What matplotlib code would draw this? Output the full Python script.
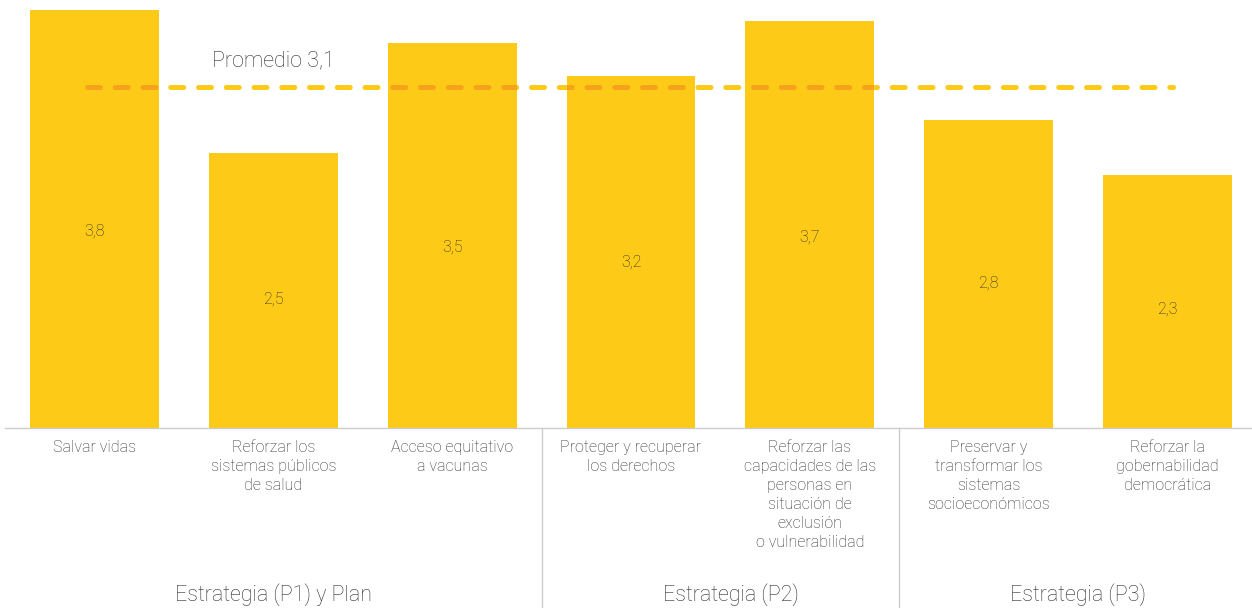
import matplotlib
matplotlib.use("Agg")
import matplotlib.pyplot as plt

# Data
categories = [
    "Salvar vidas",
    "Reforzar los\nsistemas públicos\nde salud",
    "Acceso equitativo\na vacunas",
    "Proteger y recuperar\nlos derechos",
    "Reforzar las\ncapacidades de las\npersonas en\nsituación de\nexclusión\no vulnerabilidad",
    "Preservar y\ntransformar los\nsistemas\nsocioeconómicos",
    "Reforzar la\ngobernabilidad\ndemocrática",
]
values = [3.8, 2.5, 3.5, 3.2, 3.7, 2.8, 2.3]
value_labels = ["3,8", "2,5", "3,5", "3,2", "3,7", "2,8", "2,3"]
average = 3.1
average_label = "Promedio 3,1"
groups = ["Estrategia (P1) y Plan", "Estrategia (P2)", "Estrategia (P3)"]
group_pos = [1.0, 3.56, 5.5]
separators = [2.5, 4.5]

BAR = "#FDCA17"
DASH_ON_BAR = "#F7A21B"
TEXT = "#2E2E2E"
RULE = "#CCCCCC"

plt.rcParams["font.family"] = ["Roboto", "DejaVu Sans"]

W, H = 1252, 608
fig = plt.figure(figsize=(W / 100, H / 100), dpi=100)
base_px = 428
ax = fig.add_axes([5 / W, (H - base_px) / H, 1252 / W, base_px / H])
ax.set_xlim(-0.5, 6.5)
ax.set_ylim(0, base_px / 110)

x = list(range(len(values)))
bars = ax.bar(x, values, width=0.72, color=BAR, zorder=2)

# Average line: yellow on white, deeper orange where it crosses a bar
lw = 3.6
dash = (2.6, 2.95)
line_x = [-0.04, 6.03]
ax.plot(line_x, [average, average], color=BAR, lw=lw,
        dashes=dash, dash_capstyle="round", zorder=3)
for b, v in zip(bars, values):
    if v > average:
        ln, = ax.plot(line_x, [average, average], color=DASH_ON_BAR,
                      lw=lw, dashes=dash, dash_capstyle="round", zorder=4)
        ln.set_clip_path(b)
ax.text(1.0, average + 0.24, average_label, ha="center", va="center",
        fontsize=15.5, color=TEXT, fontweight="light")

# Value labels inside bars
for xi, v, lab in zip(x, values, value_labels):
    ax.text(xi, v * 0.47, lab, ha="center", va="center", fontsize=11.5,
            color=TEXT, fontweight="light", zorder=5)

# Axis styling
for s in ["top", "right", "left"]:
    ax.spines[s].set_visible(False)
ax.spines["bottom"].set_color(RULE)
ax.spines["bottom"].set_linewidth(1)
ax.set_xticks([])
ax.set_yticks([])

tr = ax.get_xaxis_transform()
for xi, cat in zip(x, categories):
    ax.text(xi, -12 / base_px, cat, transform=tr, ha="center", va="top",
            fontsize=11.5, color=TEXT, fontweight="light", linespacing=1.33)

for sx in separators:
    ax.plot([sx, sx], [0, -(H - base_px) / base_px], transform=tr,
            color=RULE, lw=1, clip_on=False)

for gx, g in zip(group_pos, groups):
    ax.text(gx, (base_px - 595) / base_px, g, transform=tr, ha="center",
            va="center", fontsize=15.5, color=TEXT, fontweight="light")

fig.savefig("out.png", dpi=100)
